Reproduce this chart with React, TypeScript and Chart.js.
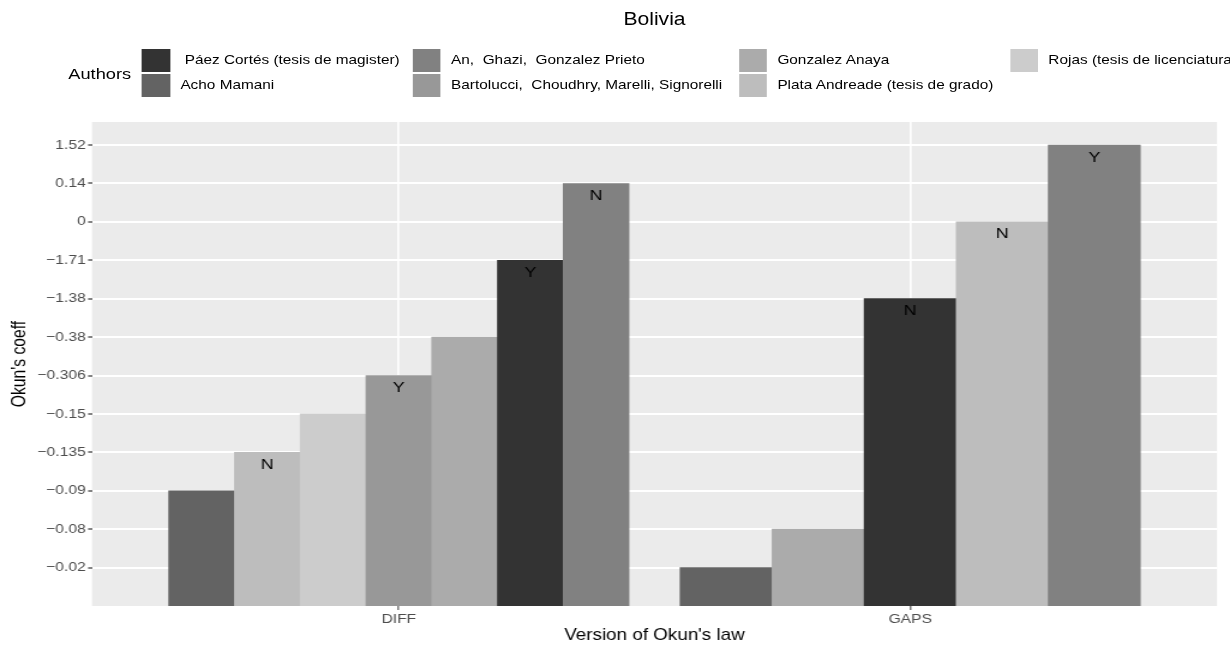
import React, { useEffect, useRef } from "react";
import { Chart, registerables } from "chart.js";

Chart.register(...registerables);

// ---------- data ----------
const chartTitle = "Bolivia";
const legendTitle = "Authors";
const xAxisTitle = "Version of Okun's law";
const yAxisTitle = "Okun's coeff";

const versions = ["DIFF", "GAPS"];

// ordered factor levels of the coefficient (bottom to top)
const coeffLevels = ["−0.02", "−0.08", "−0.09", "−0.135", "−0.15", "−0.306", "−0.38", "−1.38", "−1.71", "0", "0.14", "1.52"];

const authors = [
  " Páez Cortés (tesis de magister)",
  "Acho Mamani",
  "An,  Ghazi,  Gonzalez Prieto",
  "Bartolucci,  Choudhry, Marelli, Signorelli",
  "Gonzalez Anaya",
  "Plata Andreade (tesis de grado)",
  "Rojas (tesis de licenciatura)",
];
const authorColors = ["#333333", "#636363", "#818181", "#989898", "#ABABAB", "#BDBDBD", "#CCCCCC"];

const diffAuthors = [
  "Acho Mamani",
  "Plata Andreade (tesis de grado)",
  "Rojas (tesis de licenciatura)",
  "Bartolucci,  Choudhry, Marelli, Signorelli",
  "Gonzalez Anaya",
  " Páez Cortés (tesis de magister)",
  "An,  Ghazi,  Gonzalez Prieto",
];
const diffValues = ["−0.09", "−0.135", "−0.15", "−0.306", "−0.38", "−1.71", "0.14"];
const diffSignif = ["", "N", "", "Y", "", "Y", "N"];

const gapsAuthors = [
  "Acho Mamani",
  "Gonzalez Anaya",
  " Páez Cortés (tesis de magister)",
  "Plata Andreade (tesis de grado)",
  "An,  Ghazi,  Gonzalez Prieto",
];
const gapsValues = ["−0.02", "−0.08", "−1.38", "0", "1.52"];
const gapsSignif = ["", "", "N", "N", "Y"];

// ---------- layout ----------
const S = 1.2; // horizontal stretch of the reference picture
const W = 1230 / S;
const H = 645;
const PANEL_LEFT = 92 / S;
const PANEL_RIGHT = 1217 / S;
const PANEL_TOP = 122;
const PANEL_BOTTOM = 606;
const LEGEND_COLUMN_LEFT = [142 / S, 412.7 / S, 739 / S, 1010 / S];
const FONT = "'Liberation Sans', Arial, Helvetica, sans-serif";

function dodge(groupIndex: number, values: string[]) {
  const n = values.length;
  const w = 0.9 / n;
  return values.map((v, i) => ({
    x: groupIndex + 1 + (i - (n - 1) / 2) * w,
    y: coeffLevels.indexOf(v) + 1,
  }));
}

const colorOf = (a: string) => authorColors[authors.indexOf(a)];

const panelBackground = {
  id: "panelBackground",
  beforeDraw(chart: any) {
    const { ctx, chartArea: a } = chart;
    ctx.save();
    ctx.fillStyle = "#EBEBEB";
    ctx.fillRect(a.left, a.top, a.right - a.left, a.bottom - a.top);
    ctx.restore();
  },
};

const barLabels = {
  id: "barLabels",
  afterDatasetsDraw(chart: any) {
    const { ctx } = chart;
    ctx.save();
    ctx.font = `15px ${FONT}`;
    ctx.fillStyle = "#000000";
    ctx.textAlign = "center";
    ctx.textBaseline = "alphabetic";
    chart.data.datasets.forEach((ds: any, di: number) => {
      const meta = chart.getDatasetMeta(di);
      meta.data.forEach((bar: any, i: number) => {
        const t = ds.signif[i];
        if (!t) return;
        ctx.fillText(t, bar.x, bar.y + 16.5);
      });
    });
    ctx.restore();
  },
};

export default function App() {
  const ref = useRef<HTMLCanvasElement | null>(null);

  useEffect(() => {
    document.body.style.margin = "0";
    const xTicks = (s: any) => {
      s.ticks = versions.map((_, i) => ({ value: i + 1 }));
    };
    const chart = new Chart(ref.current as HTMLCanvasElement, {
      type: "bar",
      data: {
        datasets: [
          {
            label: versions[0],
            data: dodge(0, diffValues),
            backgroundColor: diffAuthors.map(colorOf),
            xAxisID: "x",
            yAxisID: "y",
            grouped: false,
            barPercentage: 1,
            categoryPercentage: 1,
            borderWidth: 0,
            signif: diffSignif,
          } as any,
          {
            label: versions[1],
            data: dodge(1, gapsValues),
            backgroundColor: gapsAuthors.map(colorOf),
            xAxisID: "x2",
            yAxisID: "y",
            grouped: false,
            barPercentage: 1,
            categoryPercentage: 1,
            borderWidth: 0,
            signif: gapsSignif,
          } as any,
        ],
      },
      options: {
        animation: false,
        responsive: true,
        maintainAspectRatio: false,
        layout: { padding: { top: PANEL_TOP, right: W - PANEL_RIGHT, left: 0, bottom: 0 } },
        plugins: { legend: { display: false }, tooltip: { enabled: false }, title: { display: false } },
        scales: {
          x: {
            type: "linear",
            min: 0.4,
            max: 2.6,
            offset: false,
            afterBuildTicks: xTicks,
            afterFit: (s: any) => {
              s.height = H - PANEL_BOTTOM;
            },
            ticks: {
              callback: (v: any) => versions[Math.round(Number(v)) - 1],
              color: "#4D4D4D",
              font: { family: FONT, size: 13 },
              padding: 2,
              autoSkip: false,
              maxRotation: 0,
            },
            grid: { offset: false, color: "#FFFFFF", lineWidth: 1.7, tickColor: "#333333", tickLength: 4, tickWidth: 1 },
            border: { display: false },
            title: {
              display: true,
              text: xAxisTitle,
              color: "#000000",
              font: { family: FONT, size: 15.7 },
              padding: { top: 0, bottom: 0 },
            },
          },
          x2: {
            type: "linear",
            display: false,
            min: 0.4,
            max: 2.6,
            offset: false,
            grid: { offset: false },
            afterBuildTicks: xTicks,
          },
          y: {
            type: "linear",
            min: 0,
            max: 12.6,
            afterBuildTicks: (s: any) => {
              s.ticks = coeffLevels.map((_, i) => ({ value: i + 1 }));
            },
            afterFit: (s: any) => {
              s.width = PANEL_LEFT;
            },
            ticks: {
              callback: (v: any) => coeffLevels[Math.round(Number(v)) - 1],
              color: "#4D4D4D",
              font: { family: FONT, size: 13 },
              padding: 2,
              autoSkip: false,
            },
            grid: { color: "#FFFFFF", lineWidth: 2, tickColor: "#333333", tickLength: 3.3, tickWidth: 1.2 },
            border: { display: false },
            title: {
              display: true,
              text: yAxisTitle,
              color: "#000000",
              font: { family: FONT, size: 15.7 },
              padding: { top: 7.4, bottom: 0 },
            },
          },
        },
      } as any,
      plugins: [panelBackground, barLabels],
    });
    return () => chart.destroy();
  }, []);

  const rows = 2;
  const columns: number[][] = [];
  for (let i = 0; i < authors.length; i += rows) {
    columns.push(authors.slice(i, i + rows).map((_, k) => i + k));
  }

  return (
    <div
      style={{
        position: "fixed",
        left: 0,
        top: 0,
        width: W,
        height: H,
        transform: `scaleX(${S})`,
        transformOrigin: "0 0",
        overflow: "hidden",
        background: "#FFFFFF",
        fontFamily: FONT,
      }}
    >
      <div style={{ position: "absolute", left: 0, top: 0, width: W, height: H }}>
        <canvas ref={ref} />
      </div>
      <div
        style={{
          position: "absolute",
          left: PANEL_LEFT,
          width: PANEL_RIGHT - PANEL_LEFT,
          top: 19.5 - 8.6,
          textAlign: "center",
          fontSize: 17.6,
          lineHeight: 1,
          color: "#000",
          whiteSpace: "pre",
        }}
      >
        {chartTitle}
      </div>
      <div
        style={{
          position: "absolute",
          left: 68.3 / S,
          top: 73.3 - 15.2 * 0.4885,
          fontSize: 15.2,
          lineHeight: 1,
          color: "#000",
          whiteSpace: "pre",
        }}
      >
        {legendTitle}
      </div>
      {columns.map((col, ci) => (
        <div
          key={ci}
          style={{
            position: "absolute",
            left: LEGEND_COLUMN_LEFT[ci],
            top: 49.3,
            display: "flex",
            flexDirection: "column",
            rowGap: 1.7,
          }}
        >
          {col.map((ai) => (
            <div key={ai} style={{ display: "flex", alignItems: "center", height: 23 }}>
              <div style={{ width: 23.3, height: 23, background: authorColors[ai], flex: "0 0 auto" }} />
              <span style={{ marginLeft: 8.7, fontSize: 12.8, lineHeight: 1, whiteSpace: "pre", color: "#000" }}>
                {authors[ai]}
              </span>
            </div>
          ))}
        </div>
      ))}
    </div>
  );
}
